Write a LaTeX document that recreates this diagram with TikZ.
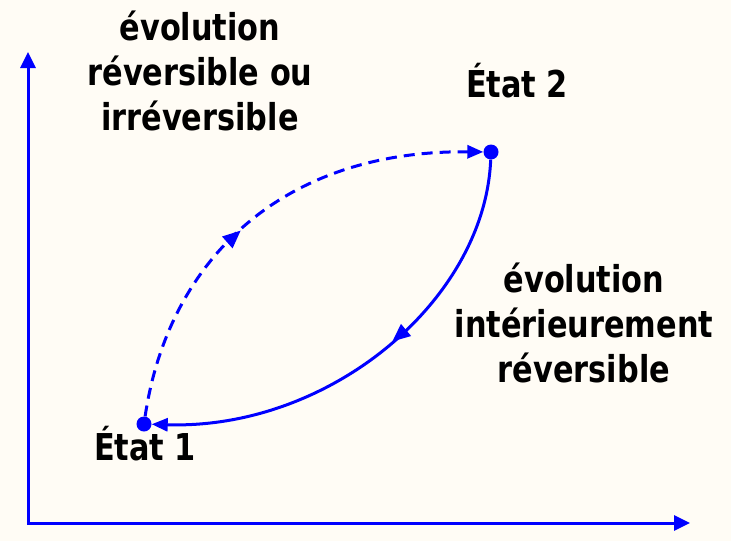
\documentclass[tikz,border=0pt]{standalone}
\usepackage{fontspec}
\setmainfont{DejaVu Sans}[FakeStretch=0.82]
\usetikzlibrary{arrows.meta,decorations.markings}
\definecolor{bgc}{RGB}{255,252,245}
\definecolor{bl}{RGB}{0,0,255}
\begin{document}
\begin{tikzpicture}[x=1pt,y=-1pt,
  axis/.style={draw=bl,line width=3pt,{Triangle[length=16pt,width=15pt]}-{Triangle[length=16pt,width=15pt]}},
  dot/.style={circle,fill=bl,inner sep=0pt,minimum size=15pt},
  lbl/.style={font=\fontsize{37}{45}\selectfont\bfseries,align=center,inner sep=0pt},
  curve/.style={draw=bl,line width=3pt},
  dashcurve/.style={dash pattern=on 11pt off 7pt},
  tip/.style={-{Triangle[length=16pt,width=13pt]}},
  midtip/.style={postaction={decorate},decoration={markings,mark=at position #1 with {\arrow{Triangle[length=18pt,width=15pt]}}}}
]
\path[use as bounding box,fill=bgc] (0,0) rectangle (731,541);
\coordinate (O) at (28,523);
\coordinate (X) at (690,523);
\coordinate (Y) at (28,52);
\draw[axis] (Y) -- (O) -- (X);
\node[dot] (e1) at (144,424) {};
\node[dot] (e2) at (491,152) {};
\draw[curve,dashcurve,tip,midtip=0.45] (e1) .. controls (168,262) and (280,150) .. (e2);
\draw[curve,tip,midtip=0.45] (e2) .. controls (485,300) and (330,430) .. (e1);
\node[lbl,anchor=base] (t1) at (200,130) {évolution\\réversible ou\\irréversible};
\node[lbl,anchor=base] (t2) at (517,97) {État 2};
\node[lbl,anchor=base] (t3) at (145,460) {État 1};
\node[lbl,anchor=base] (t4) at (584,382) {évolution\\intérieurement\\réversible};
\end{tikzpicture}
\end{document}
